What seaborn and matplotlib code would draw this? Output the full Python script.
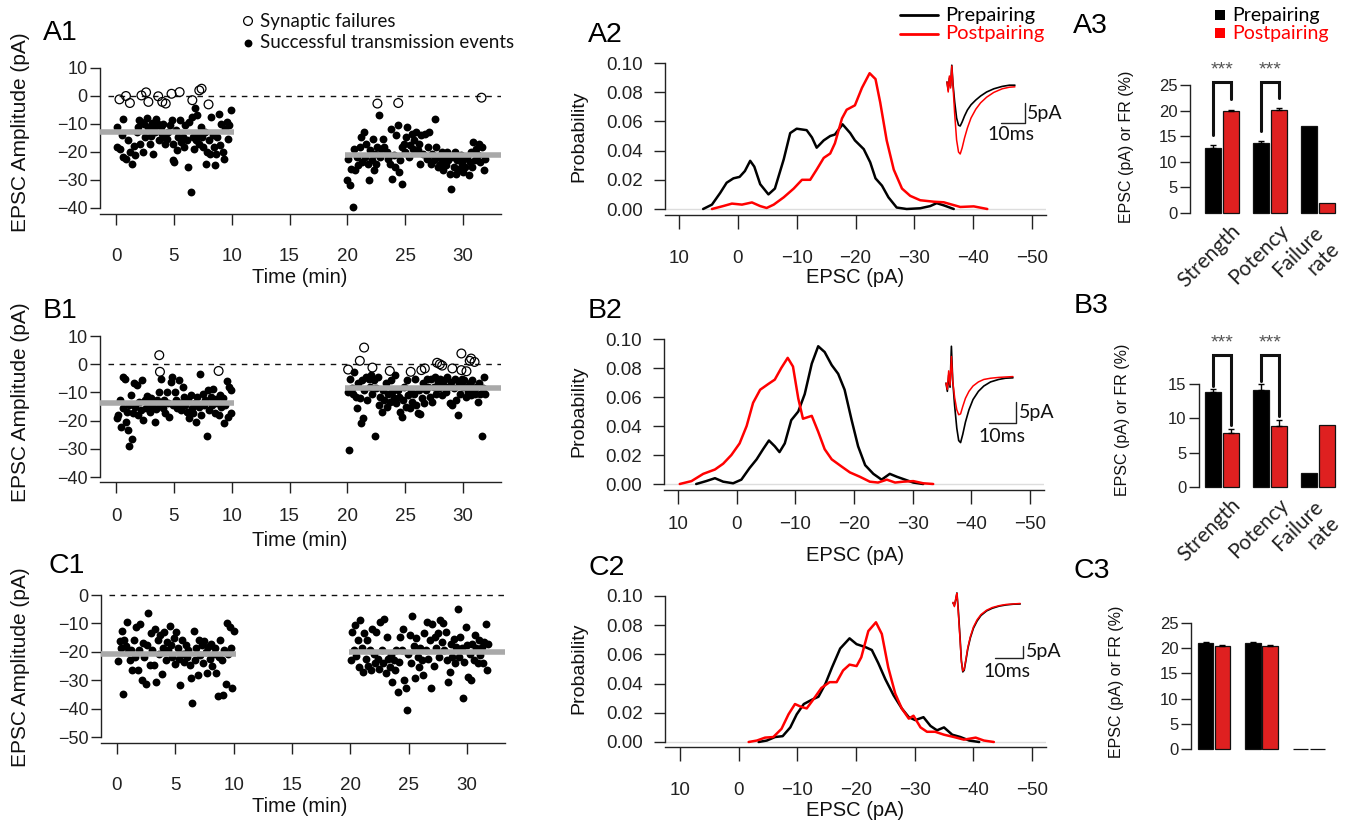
import matplotlib
matplotlib.use("Agg")
import pandas as pd
import matplotlib.pyplot as plt
import matplotlib.transforms as mtransforms
import seaborn as sns

# ---------------- dados ----------------
# (tempo em min, amplitude em pA)
a1_pre_ok = [(0.06,-11.1),(0.1,-18.2),(0.35,-18.8),(0.5,-14),(0.6,-8.1),(0.6,-21.8),(0.85,-22.4),(1.05,-15.8),
    (1.2,-20),(1.35,-24.2),(1.55,-17.9),(1.65,-21.2),(1.8,-12.9),(1.87,-11.1),(2.0,-8.7),(2.07,-17),(2.2,-9.3),
    (2.3,-20),(2.45,-9.9),(2.53,-14.6),(2.65,-7.7),(2.8,-11.1),(2.9,-17),(3.0,-14.4),(3.1,-9.6),(3.17,-20.8),
    (3.3,-11.1),(3.4,-12.9),(3.5,-8.1),(3.63,-10.1),(3.74,-15.8),(3.86,-11.1),(3.95,-13.5),(4.03,-9.9),(4.17,-14.6),
    (4.23,-17),(4.38,-15.2),(4.52,-12.9),(4.66,-10.5),(4.8,-8.7),(4.9,-17),(4.95,-22.7),(5.04,-23.6),(5.15,-12),
    (5.24,-19.4),(5.38,-14.6),(5.53,-8.7),(5.6,-16.4),(5.76,-14.6),(5.87,-18.2),(6.0,-10.5),(6.1,-15.8),(6.25,-25.4),
    (6.33,-9.3),(6.45,-34.3),(6.54,-7.5),(6.62,-14.6),(6.74,-18.8),(6.82,-4.2),(6.91,-15.8),(6.97,-6.9),(7.08,-13.5),
    (7.2,-17),(7.31,-11.1),(7.43,-14.6),(7.54,-18.2),(7.66,-12.9),(7.77,-24.2),(7.89,-20),(8.0,-15.8),(8.12,-20.8),
    (8.23,-7.5),(8.35,-14),(8.44,-18.2),(8.55,-24.8),(8.64,-20.6),(8.75,-14.6),(8.87,-6.3),(8.98,-17.6),(9.1,-9.9),
    (9.21,-20),(9.33,-22.4),(9.44,-11.7),(9.56,-9.3),(9.67,-15.2),(9.79,-10.5),(9.93,-4.9)]
a1_pre_fail = [(0.3,-1.2),(0.86,0),(1.2,-2.5),(2.2,0.2),(2.6,1.3),(2.8,-2.1),(3.65,-0.1),(4.0,-2.1),(4.3,-2.7),
    (4.8,0.8),(5.5,1.4),(6.6,-1.5),(7.2,2.0),(7.4,2.6),(8.0,-3.0)]
a1_post_ok = [(20.0,-30.1),(20.2,-31.7),(20.1,-22.4),(20.3,-26),(20.5,-39.6),(20.6,-18.8),(20.7,-26.5),(20.85,-21.8),
    (20.93,-24.8),(21.1,-18.2),(21.2,-14.6),(21.3,-23.6),(21.4,-12.9),(21.5,-21.8),(21.65,-17),(21.75,-24.2),
    (21.9,-30.1),(22.0,-19.4),(22.1,-23),(22.2,-15.2),(22.3,-26.5),(22.4,-20.6),(22.5,-24.2),(22.6,-18.2),(22.75,-6.9),
    (22.86,-21.8),(22.95,-18.8),(23.1,-15.2),(23.2,-18.2),(23.4,-20),(23.5,-22.4),(23.7,-24.2),(23.8,-11.7),
    (23.9,-29.5),(24.0,-21.2),(24.1,-25.4),(24.2,-14),(24.35,-10.5),(24.45,-27.1),(24.55,-23),(24.7,-31.3),
    (24.75,-18.2),(24.9,-17),(25.0,-20),(25.1,-14.6),(25.2,-11.1),(25.35,-21.8),(25.45,-17.6),(25.57,-13.5),
    (25.7,-18.8),(25.8,-15.8),(25.97,-12.9),(26.1,-19.4),(26.2,-17),(26.3,-24.2),(26.4,-14),(26.55,-20.6),
    (26.7,-13.5),(26.85,-22.4),(27.0,-18.2),(27.1,-12.9),(27.2,-24.2),(27.35,-20.6),(27.5,-23),(27.6,-8.1),
    (27.7,-18.2),(27.8,-25.4),(27.9,-21.8),(28.05,-24.2),(28.15,-20),(28.3,-26.5),(28.4,-22.4),(28.5,-24.8),
    (28.6,-20),(28.7,-23),(28.85,-27.7),(28.95,-33.1),(29.1,-21.8),(29.2,-25.4),(29.3,-20),(29.4,-27.7),(29.5,-23),
    (29.65,-26),(29.8,-21.2),(29.9,-24.2),(30.0,-27.1),(30.1,-22.4),(30.2,-25.4),(30.35,-21.8),(30.5,-28.3),
    (30.6,-23.6),(30.7,-20),(30.8,-25.4),(30.9,-16.4),(31.05,-23),(31.15,-18.8),(31.3,-21.2),(31.4,-17),
    (31.5,-23.6),(31.6,-18.2),(31.8,-26.5),(31.9,-22.4)]
a1_post_fail = [(22.6,-2.7),(24.4,-2.5),(31.6,-0.6)]
a1_means = [(-1.4, 10.2, -12.7), (19.8, 33.4, -21.0)]   # (inicio, fim, media)

b1_pre_ok = [(0.05,-19.2),(0.2,-18),(0.35,-12.7),(0.46,-22.1),(0.58,-15.6),(0.63,-4.7),(0.78,-5.4),(0.83,-20.4),
    (0.92,-16.8),(1.0,-23.3),(1.1,-14.5),(1.15,-28.9),(1.27,-10.9),(1.38,-26.6),(1.44,-17.4),(1.55,-6.8),(1.67,-15.1),
    (1.8,-7.4),(1.87,-18),(2.0,-13.3),(2.13,-16.2),(2.25,-5.6),(2.36,-19.8),(2.48,-12.7),(2.6,-15.6),(2.7,-11.3),
    (2.82,-14.5),(2.94,-16.8),(3.02,-12.1),(3.1,-15.1),(3.22,-13.6),(3.34,-20.4),(3.46,-16),(3.57,-12.7),(3.69,-9.8),
    (3.8,-14.5),(3.92,-5.4),(4.03,-15.6),(4.15,-12.7),(4.26,-17.2),(4.38,-9.8),(4.49,-13.9),(4.6,-18.6),(4.72,-6.2),
    (4.84,-4.7),(4.95,-14.5),(5.07,-9.8),(5.18,-12.7),(5.3,-15.6),(5.41,-5.6),(5.53,-13.9),(5.64,-16.2),(5.76,-8),
    (5.87,-11.5),(5.99,-14.5),(6.1,-16.8),(6.22,-12.7),(6.33,-19.2),(6.45,-10.9),(6.57,-15.6),(6.68,-17.2),
    (6.8,-13.9),(6.91,-20.4),(7.03,-11.5),(7.14,-15.1),(7.26,-3.3),(7.37,-18),(7.49,-10.4),(7.6,-14.5),(7.72,-12.7),
    (7.83,-25.6),(7.95,-9.2),(8.06,-16.2),(8.18,-11.5),(8.29,-14.5),(8.41,-8.9),(8.52,-17.4),(8.64,-12.5),
    (8.75,-13.9),(8.87,-18),(8.98,-10.9),(9.1,-15.3),(9.21,-12.1),(9.33,-20.7),(9.44,-14.5),(9.56,-5.9),(9.67,-18.6),
    (9.79,-8),(9.9,-17.4),(9.96,-9.2)]
b1_pre_fail = [(3.74,3.2),(3.8,-2.7),(8.87,-2.4)]
b1_post_ok = [(20.07,-9.8),(20.15,-30.4),(20.27,-5.1),(20.4,-8.6),(20.5,-10.4),(20.6,-2.7),(20.73,-11.5),(20.85,-15.6),
    (20.96,-6.8),(21.08,-12.1),(21.16,-20.9),(21.28,-5.6),(21.36,-19.2),(21.48,-9.2),(21.6,-4.5),(21.7,-12.7),
    (21.83,-5.1),(21.94,-8),(22.06,-3.9),(22.17,-10.4),(22.29,-5.6),(22.4,-25.4),(22.5,-8.6),(22.63,-4.5),
    (22.75,-14.5),(22.86,-11.5),(22.98,-16.8),(23.09,-9.2),(23.2,-12.7),(23.32,-6.8),(23.44,-15.1),(23.55,-10.4),
    (23.67,-13.3),(23.78,-5.6),(23.9,-9.8),(24.01,-12.1),(24.13,-3.9),(24.24,-13.9),(24.36,-9.2),(24.47,-11.5),
    (24.59,-16.8),(24.7,-18.6),(24.82,-12.7),(24.93,-8),(25.05,-15.1),(25.17,-5.6),(25.28,-10.9),(25.4,-15.6),
    (25.51,-9.2),(25.63,-13.3),(25.74,-10.4),(25.86,-5.1),(25.97,-14.5),(26.09,-17.2),(26.2,-9.2),(26.32,-17.6),
    (26.43,-12.1),(26.55,-6.8),(26.67,-13.9),(26.78,-9.2),(26.9,-5.1),(27.01,-8),(27.12,-11.5),(27.24,-5.4),
    (27.36,-13.3),(27.47,-8),(27.58,-4.5),(27.7,-10.4),(27.8,-6.2),(27.93,-8.6),(28.05,-5.1),(28.16,-10.9),
    (28.27,-7.4),(28.39,-5.6),(28.5,-9.8),(28.62,-4.5),(28.74,-8),(28.85,-13.9),(28.97,-6.2),(29.08,-14.5),
    (29.2,-8.6),(29.31,-5.1),(29.43,-12.7),(29.54,-18),(29.66,-6.8),(29.77,-10.4),(29.89,-5.1),(30.0,-8),
    (30.11,-5.6),(30.23,-11.5),(30.35,-8),(30.46,-9.8),(30.58,-6.8),(30.69,-10.9),(30.81,-5.6),(30.92,-9.2),
    (31.04,-10.4),(31.15,-8),(31.27,-13.3),(31.38,-6.8),(31.5,-10.4),(31.61,-25.4),(31.73,-8.6),(31.85,-4.5),
    (31.93,-10.4)]
b1_post_fail = [(20.07,-1.9),(21.08,1.2),(21.45,5.9),(22.17,-1.2),(23.67,-2.4),(25.48,-2.7),(26.4,-2.1),(26.7,-1.5),
    (27.76,0.5),(28.0,0),(28.2,-0.5),(29.08,-1.5),(29.86,3.8),(29.86,-2.1),(30.3,-2.5),(30.58,1.2),(30.7,2),(31.0,0.8)]
b1_means = [(-1.4, 10.2, -13.8), (19.8, 33.4, -8.3)]

c1_pre_ok = [(0.06,-23.2),(0.23,-16.1),(0.34,-18.8),(0.46,-12.6),(0.51,-34.7),(0.63,-15.9),(0.74,-18),(0.86,-9.4),
    (0.97,-20),(1.09,-22.9),(1.2,-19.2),(1.31,-26.5),(1.43,-15.9),(1.54,-21.8),(1.66,-11.2),(1.77,-26.5),(1.89,-19.4),
    (2.0,-10.2),(2.11,-29.8),(2.23,-16.8),(2.34,-21.8),(2.46,-31.4),(2.57,-17.6),(2.69,-6.5),(2.8,-24.7),(2.91,-13.5),
    (3.03,-19.4),(3.14,-24.7),(3.26,-11.8),(3.37,-30.6),(3.49,-15.9),(3.6,-20.6),(3.71,-14.1),(3.83,-27.9),
    (3.94,-18.5),(4.06,-12.9),(4.17,-22.9),(4.29,-16.5),(4.4,-19.4),(4.51,-10.8),(4.63,-17.6),(4.74,-21.8),
    (4.86,-15.3),(4.97,-24.4),(5.09,-12.9),(5.2,-18.8),(5.31,-22.4),(5.43,-31.8),(5.54,-15.9),(5.66,-20.6),
    (5.77,-23.5),(5.89,-17.6),(6.0,-21.8),(6.11,-19.4),(6.23,-24.7),(6.34,-29.1),(6.46,-38),(6.57,-12.6),(6.69,-22.9),
    (6.8,-18.5),(6.91,-28.2),(7.03,-15.9),(7.14,-21.2),(7.26,-17.6),(7.37,-24.1),(7.49,-16.1),(7.6,-20),(7.71,-27.4),
    (7.83,-18.2),(7.94,-22.4),(8.06,-17.1),(8.17,-25.1),(8.29,-20.6),(8.4,-18.5),(8.51,-27.6),(8.63,-35.6),
    (8.74,-21.8),(8.86,-15.9),(8.97,-22.9),(9.09,-35.3),(9.2,-19.4),(9.31,-31.2),(9.43,-10),(9.54,-20.8),(9.66,-11.2),
    (9.77,-18.5),(9.89,-32.9),(10.0,-12.6)]
c1_post_ok = [(20.06,-22.9),(20.17,-12.9),(20.29,-19.4),(20.4,-10.6),(20.51,-21.5),(20.63,-15.9),(20.74,-25.3),
    (20.86,-8.8),(20.97,-18.5),(21.09,-27.1),(21.2,-13.5),(21.31,-22.4),(21.43,-15.9),(21.54,-25.1),(21.66,-19.4),
    (21.77,-26.5),(21.89,-11.8),(22.0,-20.9),(22.11,-24.1),(22.23,-12.9),(22.34,-22.7),(22.46,-25.9),(22.57,-9.4),
    (22.69,-19.4),(22.8,-24.1),(22.91,-8.6),(23.03,-27.6),(23.14,-14.7),(23.26,-22.7),(23.37,-25.3),(23.49,-21.2),
    (23.6,-30.6),(23.71,-22.9),(23.83,-26.5),(23.94,-19.2),(24.06,-34.1),(24.17,-23.5),(24.29,-14.7),(24.4,-19.4),
    (24.51,-12.1),(24.63,-30),(24.74,-32.9),(24.86,-40.6),(24.97,-20.6),(25.09,-14.1),(25.2,-24.1),(25.31,-7.4),
    (25.43,-18),(25.54,-29.4),(25.66,-15.3),(25.77,-21.8),(25.89,-25.3),(26.0,-18.5),(26.11,-22.9),(26.23,-28.2),
    (26.34,-13.5),(26.46,-19.4),(26.57,-9.4),(26.69,-22.7),(26.8,-15.9),(26.91,-32.9),(27.03,-10.2),(27.14,-25.1),
    (27.26,-14.7),(27.37,-18.8),(27.49,-13.5),(27.6,-21.8),(27.71,-8.8),(27.83,-16.5),(27.94,-9.8),(28.06,-19.4),
    (28.17,-12.9),(28.29,-22.9),(28.4,-30.6),(28.51,-27.1),(28.63,-17.1),(28.74,-21.8),(28.86,-15.6),(28.97,-24.1),
    (29.09,-18.2),(29.2,-5.1),(29.31,-21.8),(29.43,-14.7),(29.54,-18.8),(29.66,-36.2),(29.77,-23.5),(29.89,-11.2),
    (30.0,-17.6),(30.11,-28.8),(30.23,-20.6),(30.34,-29.8),(30.46,-17.1),(30.57,-22.9),(30.69,-14.1),(30.8,-18.8),
    (30.91,-24.1),(31.03,-15.9),(31.14,-21.2),(31.26,-18.2),(31.37,-24.1),(31.49,-16.5),(31.6,-10.2),(31.71,-26.5),
    (31.83,-17.1)]
c1_means = [(-1.4, 10.2, -20.6), (19.9, 33.5, -20.1)]

# distribuicoes (EPSC pA, probabilidade)
a2_pre = [(5.9,0.0),(4.4,0.003),(3.0,0.011),(1.9,0.018),(0.75,0.021),(-0.3,0.022),(-1.2,0.026),(-2.1,0.033),
    (-2.8,0.029),(-3.8,0.017),(-5.2,0.010),(-6.3,0.014),(-7.8,0.034),(-8.9,0.052),(-10.0,0.055),(-11.7,0.054),
    (-12.6,0.049),(-13.4,0.042),(-14.6,0.047),(-15.7,0.050),(-16.5,0.051),(-17.8,0.058),(-19.1,0.052),(-19.9,0.047),
    (-21.4,0.041),(-22.5,0.032),(-23.4,0.021),(-24.5,0.016),(-25.6,0.008),(-27.0,0.001),(-28.7,0.0),(-31.0,0.0005),
    (-32.7,0.002),(-33.8,0.004),(-35.0,0.0025),(-36.7,0.0)]
a2_post = [(4.4,0.0),(2.5,0.002),(1.0,0.0037),(-0.7,0.003),(-2.4,0.0045),(-3.8,0.002),(-4.9,0.0007),(-6.1,0.003),
    (-7.8,0.008),(-9.5,0.014),(-10.9,0.020),(-12.3,0.020),(-13.4,0.027),(-14.6,0.035),(-15.7,0.038),(-16.5,0.045),
    (-17.7,0.062),(-18.5,0.068),(-19.9,0.071),(-21.1,0.083),(-22.4,0.093),(-23.4,0.089),(-24.2,0.073),(-25.3,0.047),
    (-26.5,0.027),(-27.9,0.014),(-29.3,0.009),(-31.0,0.006),(-33.3,0.005),(-35.0,0.0046),(-36.4,0.003),
    (-37.8,0.0014),(-40.1,0.0018),(-42.4,0.0)]
b2_pre = [(6.9,0.0),(5.2,0.002),(3.7,0.004),(2.3,0.0016),(0.6,0.0005),(-0.8,0.003),(-2.2,0.011),(-3.4,0.017),
    (-4.5,0.024),(-5.5,0.030),(-6.5,0.026),(-7.3,0.022),(-8.2,0.028),(-9.3,0.044),(-10.5,0.050),(-11.6,0.062),
    (-12.8,0.083),(-13.9,0.095),(-15.0,0.091),(-16.2,0.082),(-17.3,0.076),(-18.4,0.065),(-19.6,0.044),(-20.7,0.026),
    (-21.9,0.013),(-23.3,0.007),(-24.7,0.003),(-26.1,0.007),(-27.3,0.005),(-28.7,0.003),(-30.1,0.001),(-31.8,0.0)]
b2_post = [(9.7,0.0),(7.7,0.002),(5.7,0.007),(3.7,0.010),(2.3,0.014),(0.9,0.020),(-0.5,0.028),(-1.7,0.040),
    (-2.8,0.056),(-4.0,0.065),(-5.4,0.069),(-6.5,0.072),(-7.6,0.080),(-8.7,0.087),(-9.6,0.081),(-10.5,0.059),
    (-11.3,0.045),(-12.8,0.047),(-13.9,0.036),(-15.0,0.024),(-16.2,0.017),(-17.9,0.012),(-19.3,0.008),(-21.0,0.005),
    (-22.7,0.0016),(-24.1,0.001),(-25.6,0.003),(-27.0,0.001),(-28.4,0.0016),(-30.1,0.002),(-31.8,0.0005),(-33.5,0.0)]
c2_pre = [(-3.4,0.0),(-4.8,0.001),(-6.2,0.0034),(-7.5,0.004),(-8.8,0.010),(-9.9,0.019),(-11.1,0.026),(-12.5,0.029),
    (-13.6,0.031),(-14.8,0.040),(-15.9,0.051),(-17.3,0.064),(-18.9,0.071),(-20.1,0.067),(-21.6,0.065),(-22.7,0.063),
    (-23.8,0.054),(-25.0,0.043),(-26.4,0.032),(-27.8,0.023),(-29.0,0.017),(-30.1,0.015),(-31.5,0.017),(-32.7,0.011),
    (-33.8,0.008),(-35.0,0.010),(-36.4,0.005),(-37.8,0.0034),(-39.3,0.001),(-41.0,0.0)]
c2_post = [(-1.7,0.0),(-3.1,0.001),(-4.5,0.003),(-5.9,0.0034),(-7.3,0.009),(-8.5,0.019),(-9.6,0.026),(-10.7,0.024),
    (-11.6,0.023),(-12.7,0.029),(-14.1,0.037),(-15.5,0.041),(-16.7,0.041),(-17.8,0.049),(-18.9,0.053),(-20.1,0.052),
    (-20.9,0.058),(-22.1,0.076),(-23.4,0.082),(-24.4,0.074),(-25.5,0.051),(-26.7,0.033),(-27.8,0.023),(-29.0,0.016),
    (-29.8,0.018),(-31.0,0.010),(-32.1,0.007),(-33.5,0.007),(-35.0,0.005),(-36.7,0.0034),(-38.4,0.0016),
    (-40.4,0.003),(-41.8,0.001),(-43.5,0.0)]

# tracos medios dos EPSCs (ms, pre pA, pos pA)
a2_trace = [(0,0,0),(0.5,-2,-2.5),(1.0,1,1.5),(1.5,-1,-1.5),(2.0,4.2,4.0),(2.5,-0.5,-1.0),(3.2,-5,-8),(4.0,-9,-14.5),
    (4.8,-10.8,-17.5),(5.5,-11,-18),(6.3,-10,-16.5),(7.3,-8.5,-14),(8.5,-7,-11.5),(10,-5.7,-9),(12,-4.5,-6.8),
    (14,-3.5,-5.2),(16.5,-2.5,-3.8),(19.5,-1.7,-2.6),(23,-1.1,-1.7),(26,-0.8,-1.3),(28.3,-0.8,-1.2)]
b2_trace = [(0,-1.5,-1.5),(0.5,-3.5,-3.0),(1.0,0.5,1.5),(1.5,-2.5,-2.0),(2.0,7.5,5.0),(2.5,-1.0,-1.0),(3.2,-7,-5),
    (4.0,-12.5,-8),(4.7,-15.5,-9.2),(5.4,-16,-9.0),(6.2,-14,-7.2),(7.2,-11,-5.2),(8.5,-8,-3.5),(10,-5.5,-2.2),
    (12,-3.5,-1.2),(14,-2.2,-0.6),(16.5,-1.2,-0.3),(19.5,-0.6,-0.1),(22,-0.3,0),(24.8,-0.2,0.1)]
c2_trace = [(0,0,0.3),(0.5,-1,-1.5),(1.0,1.5,2.0),(1.4,4.2,4.0),(1.9,-3,-4),(2.5,-14,-15),(3.0,-24,-24.5),
    (3.5,-28.7,-28.3),(4.0,-28,-27.5),(4.6,-24,-23.5),(5.3,-19,-18.5),(6.2,-14.5,-14),(7.3,-10.5,-10),(8.6,-7.5,-7),
    (10,-5.2,-4.8),(12,-3.3,-3),(14,-2.2,-1.9),(16.5,-1.3,-1.1),(19,-0.8,-0.6),(21.5,-0.5,-0.4),(24,-0.4,-0.2)]

# barras
medidas = ["Strength", "Potency", "Failure\nrate"]
a3_pre, a3_pre_err = [12.7, 13.6, 17.0], [0.5, 0.4, 0.0]
a3_post, a3_post_err = [19.9, 20.2, 2.0], [0.3, 0.25, 0.0]
b3_pre, b3_pre_err = [13.8, 14.1, 2.1], [0.4, 0.9, 0.0]
b3_post, b3_post_err = [7.9, 8.9, 9.1], [0.6, 0.9, 0.0]
c3_pre, c3_pre_err = [21.0, 21.0, 0.0], [0.3, 0.3, 0.0]
c3_post, c3_post_err = [20.4, 20.4, 0.0], [0.25, 0.3, 0.0]

# ---------------- estilo ----------------
sns.set_style("ticks")
plt.rcParams["font.family"] = ["Liberation Sans", "DejaVu Sans"]
plt.rcParams["axes.edgecolor"] = "#222222"
plt.rcParams["axes.linewidth"] = 1.0
plt.rcParams["xtick.color"] = "#222222"
plt.rcParams["ytick.color"] = "#222222"
plt.rcParams["text.color"] = "#111111"
plt.rcParams["axes.labelcolor"] = "#111111"
LEG = ["Lato", "DejaVu Sans"]
RED = "#ff0000"
GRAY = "#a9a9a9"

W, H = 1347, 822
fig = plt.figure(figsize=(W / 100, H / 100), dpi=100)


def px_axes(l, t, r, b):
    return fig.add_axes([l / W, 1 - b / H, (r - l) / W, (b - t) / H])


def span(p0, p1, pa, va, pb, vb):
    k = (vb - va) / (pb - pa)
    return va + (p0 - pa) * k, va + (p1 - pa) * k


def set_ylabel(ax, text, cx, cy, box, size):
    l, t, r, b = box
    ax.set_ylabel(text, fontsize=size)
    ax.yaxis.set_label_coords((cx - l) / (r - l), (b - cy) / (b - t))
    ax.yaxis.label.set_verticalalignment("center")


def set_xlabel(ax, text, cx, top, box, size):
    l, t, r, b = box
    ax.set_xlabel(text, fontsize=size)
    ax.xaxis.set_label_coords((cx - l) / (r - l), (b - top) / (b - t))


# ---------------- coluna 1: amplitude x tempo ----------------
def painel_tempo(cfg, ok, falhas, medias):
    box = cfg["box"]
    ax = px_axes(*box)
    ax.set_xlim(span(box[0], box[2], *cfg["xref"]))
    ax.set_ylim(span(box[3], box[1], *cfg["yref"]))
    ax.axhline(0, xmin=0.02, color="#111111", lw=1.0, ls=(0, (4, 4)), zorder=1)
    df_ok = pd.DataFrame(ok, columns=["t", "amp"])
    sns.scatterplot(data=df_ok, x="t", y="amp", color="black", s=32, linewidth=0, ax=ax, zorder=2)
    if falhas:
        df_f = pd.DataFrame(falhas, columns=["t", "amp"])
        sns.scatterplot(data=df_f, x="t", y="amp", facecolor="none", edgecolor="black", s=40,
                        linewidth=0.9, ax=ax, zorder=2)
    for t0, t1, m in medias:
        ax.plot([t0, t1], [m, m], color=GRAY, lw=4, solid_capstyle="butt", zorder=3)
    ax.set_xticks(range(0, 31, 5))
    ax.set_yticks(cfg["yticks"])
    sns.despine(ax=ax)
    ax.spines["left"].set_bounds(cfg["yticks"][0], cfg["yticks"][-1])
    ax.tick_params(axis="x", length=8, width=1, pad=cfg["tpad"], labelsize=13.5)
    ax.tick_params(axis="y", length=7, width=1, pad=2, labelsize=13)
    set_ylabel(ax, "EPSC Amplitude (pA)", 21, cfg["ylab_cy"], box, 15)
    set_xlabel(ax, "Time (min)", 300, cfg["xlab_top"], box, 14.5)
    return ax


tempo_cfg = [
    dict(box=(100, 55, 501, 214), xref=(116, 0, 463, 30), yref=(68, 10, 208, -40),
         yticks=list(range(-40, 11, 10)), ylab_cy=132, xlab_top=268, tpad=16.5),
    dict(box=(100, 325, 501, 482), xref=(116, 0, 463, 30), yref=(336, 10, 477, -40),
         yticks=list(range(-40, 11, 10)), ylab_cy=402, xlab_top=531, tpad=10.5),
    dict(box=(101, 585, 505, 743), xref=(117, 0, 467, 30), yref=(595, 0, 737, -50),
         yticks=list(range(-50, 1, 10)), ylab_cy=667, xlab_top=797, tpad=16.5),
]
painel_tempo(tempo_cfg[0], a1_pre_ok + a1_post_ok, a1_pre_fail + a1_post_fail, a1_means)
painel_tempo(tempo_cfg[1], b1_pre_ok + b1_post_ok, b1_pre_fail + b1_post_fail, b1_means)
painel_tempo(tempo_cfg[2], c1_pre_ok + c1_post_ok, [], c1_means)


# ---------------- coluna 2: distribuicoes ----------------
def painel_dist(cfg, pre, post, trace, ins):
    box = cfg["box"]
    ax = px_axes(*box)
    ax.set_xlim(span(box[0], box[2], *cfg["xref"]))
    ax.set_ylim(span(box[3], box[1], *cfg["yref"]))
    ax.axhline(0, color="#dddddd", lw=1.0, zorder=1)
    for curva, cor in [(pre, "black"), (post, RED)]:
        d = pd.DataFrame(curva, columns=["epsc", "p"])
        sns.lineplot(data=d, x="epsc", y="p", color=cor, lw=1.8, sort=False, estimator=None, ax=ax, zorder=2,
                     solid_joinstyle="round", solid_capstyle="round")
    ax.set_xticks(range(10, -51, -10))
    ax.set_yticks([0, 0.02, 0.04, 0.06, 0.08, 0.10])
    ax.set_yticklabels(["0.00", "0.02", "0.04", "0.06", "0.08", "0.10"])
    sns.despine(ax=ax)
    ax.spines["left"].set_bounds(0, 0.10)
    ax.tick_params(axis="x", length=10, width=1, pad=cfg["tpad"], labelsize=13.5)
    ax.tick_params(axis="y", length=8, width=1, pad=8, labelsize=13.5)
    set_ylabel(ax, "Probability", 579, cfg["ylab_cy"], box, 14)
    set_xlabel(ax, "EPSC (pA)", 855, cfg["xlab_top"], box, 14.5)

    # inset com os tracos
    l, t, r, b = ins["box"]
    axi = px_axes(l, t, r, b)
    axi.set_xlim((l - ins["x0"]) / ins["kx"], (r - ins["x0"]) / ins["kx"])
    axi.set_ylim(-(b - ins["y0"]) / ins["ky"], (ins["y0"] - t) / ins["ky"])
    axi.axis("off")
    dt = pd.DataFrame(trace, columns=["ms", "pre", "post"])
    sns.lineplot(data=dt, x="ms", y="pre", color="black", lw=1.2, sort=False, estimator=None, ax=axi)
    sns.lineplot(data=dt, x="ms", y="post", color=RED, lw=1.1, sort=False, estimator=None, ax=axi)
    sx, sy = ins["bar"]
    axi.plot([sx - 10, sx, sx], [sy, sy, sy + 5], color="#222222", lw=1.0, clip_on=False)
    axi.text(sx + ins["d5"], sy + 2.5, "5pA", family=LEG, fontsize=14, ha="left", va="center", clip_on=False)
    axi.text(ins["ms_x"], ins["ms_y"], "10ms", family=LEG, fontsize=14, ha="center", va="center", clip_on=False)
    return ax


dist_cfg = [
    dict(box=(665, 55, 1046, 215), xref=(679, 10, 1032, -50), yref=(63, 0.10, 209, 0.0), ylab_cy=136,
         xlab_top=268, tpad=15),
    dict(box=(664, 330, 1044, 490), xref=(678, 10, 1030, -50), yref=(339, 0.10, 484, 0.0), ylab_cy=411,
         xlab_top=546, tpad=9),
    dict(box=(665, 588, 1046, 747), xref=(680, 10, 1032, -50), yref=(596, 0.10, 742, 0.0), ylab_cy=668,
         xlab_top=801, tpad=15),
]
inset_cfg = [
    dict(box=(940, 55, 1060, 165), x0=947, kx=2.4, y0=82, ky=4.0, bar=(32.5, -10.25), d5=0.8, ms_x=26.7, ms_y=-13.0),
    dict(box=(940, 335, 1060, 455), x0=946, kx=2.7, y0=377, ky=4.1, bar=(25.9, -11.2), d5=1.0, ms_x=20.7, ms_y=-14.6),
    dict(box=(945, 585, 1065, 700), x0=953, kx=2.8, y0=603, ky=2.4, bar=(25.0, -22.9), d5=1.2, ms_x=19.3, ms_y=-28.7),
]
painel_dist(dist_cfg[0], a2_pre, a2_post, a2_trace, inset_cfg[0])
painel_dist(dist_cfg[1], b2_pre, b2_post, b2_trace, inset_cfg[1])
painel_dist(dist_cfg[2], c2_pre, c2_post, c2_trace, inset_cfg[2])


# ---------------- coluna 3: barras ----------------
def painel_barras(cfg, pre, pre_err, post, post_err):
    box = cfg["box"]
    ax = px_axes(*box)
    df = pd.DataFrame({"medida": medidas * 2,
                       "cond": ["Prepairing"] * 3 + ["Postpairing"] * 3,
                       "valor": pre + post})
    sns.barplot(data=df, x="medida", y="valor", hue="cond", order=medidas,
                hue_order=["Prepairing", "Postpairing"], palette=["black", RED],
                width=0.71, gap=0.06, edgecolor="#111111", linewidth=0.9,
                errorbar=None, legend=False, ax=ax)
    centros = []
    for cont, errs in zip(ax.containers, [pre_err, post_err]):
        xs = []
        for bar, e in zip(cont, errs):
            bar.set_clip_on(False)
            xc = bar.get_x() + bar.get_width() / 2
            xs.append(xc)
            if e > 0:
                ax.errorbar(xc, bar.get_height(), yerr=[[0], [e]], fmt="none", ecolor="black",
                            elinewidth=1.0, capsize=2.5, capthick=1.0, zorder=3)
        centros.append(xs)
    ax.set_xlim(span(box[0], box[2], *cfg["xref"]))
    ax.set_ylim(span(box[3], box[1], *cfg["yref"]))
    ax.set_yticks(cfg["yticks"])
    sns.despine(ax=ax, bottom=True)
    ax.spines["left"].set_bounds(0, cfg["yticks"][-1])
    ax.tick_params(axis="y", length=7, width=1, pad=2, labelsize=12)
    ax.tick_params(axis="x", length=0, pad=9)
    ax.set_xlabel("")
    set_ylabel(ax, "EPSC (pA) or FR (%)", cfg["ylab_cx"], cfg["ylab_cy"], box, 11.5)
    if cfg["labels"]:
        for lab, (dx, dy) in zip(ax.get_xticklabels(), [(15, 0), (15, 0), (10, -10)]):
            lab.set_rotation(45)
            lab.set_ha("right")
            lab.set_va("center")
            lab.set_rotation_mode("anchor")
            lab.set_fontfamily(LEG)
            lab.set_fontsize(15)
            lab.set_transform(lab.get_transform() + mtransforms.ScaledTranslation(dx / 100, dy / 100, fig.dpi_scale_trans))
    else:
        ax.tick_params(axis="x", labelbottom=False)
    sig = cfg.get("sig")
    if sig:
        for i in range(2):
            x0, x1 = centros[0][i], centros[1][i]
            y0 = pre[i] + pre_err[i] + sig["gap"]
            y1 = post[i] + post_err[i] + sig["gap"]
            ax.plot([x0, x0, x1, x1], [y0, sig["top"], sig["top"], y1], color="#111111", lw=2.2,
                    solid_joinstyle="miter", clip_on=False, zorder=4)
            ax.annotate("***", ((x0 + x1) / 2, sig["top"]), xytext=(0, 12), textcoords="offset pixels",
                        ha="center", va="center", color="#555555", fontsize=14)
    return ax


barras_cfg = [
    dict(box=(1190, 75, 1340, 215), xref=(1222, 0, 1270, 1), yref=(85, 25, 213, 0), yticks=list(range(0, 26, 5)),
         ylab_cx=1127, ylab_cy=147, labels=True, sig=dict(gap=2.0, top=25.6)),
    dict(box=(1199, 350, 1340, 489), xref=(1222, 0, 1270, 1), yref=(384, 15, 487, 0), yticks=list(range(0, 16, 5)),
         ylab_cx=1123, ylab_cy=420, labels=True, sig=dict(gap=0.5, top=19.2)),
    dict(box=(1191, 600, 1340, 752), xref=(1214, 0, 1261.5, 1), yref=(623, 25, 749, 0), yticks=list(range(0, 26, 5)),
         ylab_cx=1116, ylab_cy=682, labels=False),
]
painel_barras(barras_cfg[0], a3_pre, a3_pre_err, a3_post, a3_post_err)
painel_barras(barras_cfg[1], b3_pre, b3_pre_err, b3_post, b3_post_err)
painel_barras(barras_cfg[2], c3_pre, c3_pre_err, c3_post, c3_post_err)

# ---------------- rotulos e legendas (coordenadas em pixels) ----------------
ov = fig.add_axes([0, 0, 1, 1])
ov.set_xlim(0, W)
ov.set_ylim(H, 0)
ov.axis("off")
ov.patch.set_alpha(0)

for txt, x, y, ha in [("A1", 43, 40, "left"), ("A2", 588, 42, "left"), ("A3", 1108, 33, "right"),
                      ("B1", 43, 318, "left"), ("B2", 588, 318, "left"), ("B3", 1108, 313, "right"),
                      ("C1", 48, 573, "left"), ("C2", 588, 575, "left"), ("C3", 1110, 578, "right")]:
    ov.text(x, y, txt, fontsize=20.5, ha=ha, va="baseline", color="black")

# legenda de A1
ov.scatter([248], [21], s=40, facecolor="none", edgecolor="black", linewidth=0.9)
ov.scatter([248], [43], s=32, color="black", linewidth=0)
ov.text(260, 21, "Synaptic failures", family=LEG, fontsize=13.5, va="center")
ov.text(260, 43, "Successful transmission events", family=LEG, fontsize=13.5, va="center")

# legenda de A2
ov.plot([900, 938], [15, 15], color="black", lw=2)
ov.plot([900, 938], [34, 34], color=RED, lw=2)
ov.text(945, 15, "Prepairing", family=LEG, fontsize=14.5, va="center", color="black")
ov.text(945, 34, "Postpairing", family=LEG, fontsize=14.5, va="center", color=RED)

# legenda de A3
ov.scatter([1220], [15], s=60, marker="s", color="black", linewidth=0)
ov.scatter([1220], [33], s=60, marker="s", color=RED, linewidth=0)
ov.text(1232, 15, "Prepairing", family=LEG, fontsize=14, va="center", color="black")
ov.text(1232, 33, "Postpairing", family=LEG, fontsize=14, va="center", color=RED)

fig.savefig("out.png", dpi=100)
